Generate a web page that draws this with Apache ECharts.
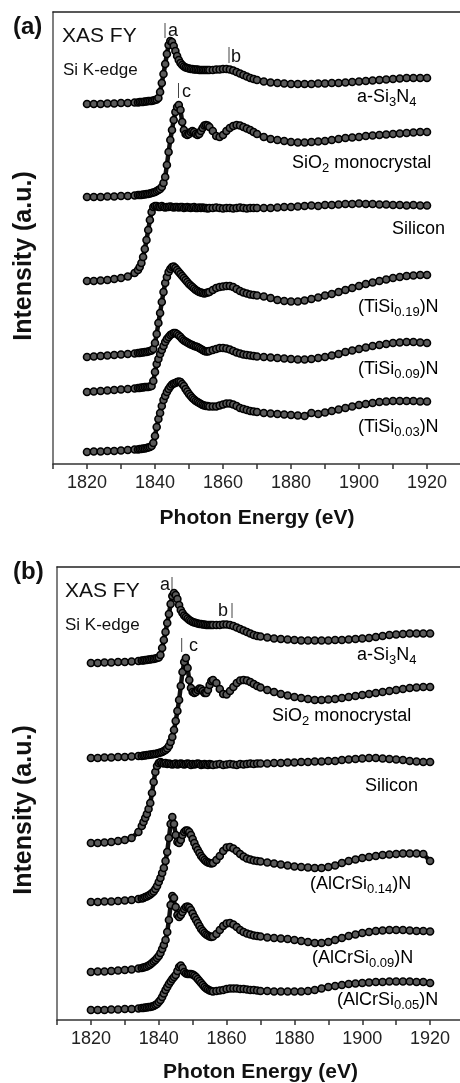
<!DOCTYPE html>
<html>
<head>
<meta charset="utf-8">
<script src="https://cdn.jsdelivr.net/npm/echarts@6/dist/echarts.min.js"></script>
<style>
	html,body{margin:0;padding:0;background:#fff;overflow:hidden;}
	#chart{width:460px;height:1083px;}
</style>
</head>
<body>
<div id="chart"></div>
<script>
// photon energy grid (eV), shared by both panels
const energy = [1820,1822,1824,1826,1828,1830,1832,1834,
	1835,1835.5,1836,1836.5,1837,1837.5,1838,1838.5,1839,1839.5,
	1840,1840.5,1841,1841.5,1842,1842.5,1843,1843.5,1844,1844.5,
	1845,1845.5,1846,1846.5,1847,1847.5,1848,1848.5,1849,1849.5,
	1850,1850.5,1851,1851.5,1852,1852.5,1853,1853.5,1854,1854.5,
	1855,1855.5,1856,
	1857,1858,1859,1860,1861,1862,1863,1864,1865,1866,1867,1868,1869,1870,
	1872,1874,1876,1878,1880,1882,1884,1886,1888,1890,1892,1894,1896,1898,
	1900,1902,1904,1906,1908,1910,1912,1914,1916,1918,1920];

// panel (a), offset intensities (a.u.)
const aSi3N4A = [360,360,360,360.5,360.5,361,361,361.5,
	361.5,362,362,362,362.5,362.5,363,363,363,363.5,
	364,364.5,366,372,381,390,400,410,419,423,
	422,418,413,408,404,401,399,397.5,396.5,396,
	395.5,395,395,394.5,394.5,394.5,394,394,394,394,
	394,394,394,
	394,394.5,394.5,395,395,394.5,393.5,392,390.5,389,387.5,386,385,384,
	382.5,381.5,381,380.5,380,380,380,380,380.5,380.5,381,381,381.5,382,
	382.5,383,383.5,384,384.5,385,385.5,386,386,386,386];
const sio2A = [267,267,267,267.5,267.5,268,268,268.5,
	269,269,269,269.5,269.5,270,270,270.5,271,271.5,
	272,273,274,275,277,281,287,299,312,324,
	334,344,352,357,359,354,342,334,330,329,
	330,332,333,332,330,329,330,333,336,338.5,
	339,338.5,337,
	333,328,327,329,333,336,338,339,338.5,337,335.5,334,332,330,
	327,325,324,323,322,321.5,321.5,322,322.5,323,324,325,326,326.5,
	327,328,328.5,329,329.5,330,330.5,331,331.5,332,332];
const siliconA = [183,183,183.5,184,185,186,187.5,191,
	194,197,201,207,215,224,234,244,252,257,
	258,258,257,257,258,257,256.5,257,257,257.5,
	257,256.5,257,257,256.5,257,257,256,256.5,257,
	256.5,256,256.5,257,256,256,256.5,256,256.5,256,
	256,255.5,256,
	256,256.5,256,255.5,256,256,255.5,256,256.5,256,255.5,256,256,256,
	256,256,256.5,257,257,257.5,258,258.5,258,259,259,259.5,260,260,
	260.5,260,260,259.5,259.5,259,259,258.5,259,258.5,258.5];
const tiSi19 = [107,107.5,108,108.5,109,109.5,110,110.5,
	111,111,111.5,111.5,112,112,112.5,113,113.5,115,
	121,130,141,151,162,172,181,187,192,195,
	197,197.5,196,194,192,190,188,186,184,182,
	180,178.5,177,175.5,174,173,172,171.5,171,170.5,
	171,171.5,172,
	174,176,177,177.5,178,178,177,175,173,171.5,170.5,169.5,169,168.5,
	167.5,166,164,163,162.5,162.5,163.5,165,166.5,168.5,170,172,174,176,
	178,180,181.5,183,184.5,186,187,188,188.5,189,189];
const tiSi09 = [72,72.5,73,73.5,74,74.5,75,75.5,
	76,76,76.5,76.5,77,77,77,77.5,78,83,
	92,100,105,110,114,118,122,125,127,129,
	130,131,131,130,128.5,127,125,123.5,122.5,121.5,
	120.5,119.5,119,118,117.5,117,116,115,114,113,
	112.5,112.5,113,
	114,115,116,116,115.5,114.5,113,111.5,110.5,109.5,109,108.5,108,107.5,
	107,106.5,106,105.5,105,104.5,104.5,105,106,107,108.5,110,112,113.5,
	115,116.5,118,119,120,121,121.5,122,122,121.5,121];
const tiSi03 = [12,12.5,12.5,13,13,13.5,14,14.5,
	14.5,15,15,15.5,15.5,16,16.5,17,18,21,
	28,37,45,51,58,64,68,72,75,77.5,
	79.5,80.5,81,82,82.5,82,80,78,75,72.5,
	70,68,66,64.5,63,62,61,60,59,58.5,
	58,58,57.5,
	57.5,57.5,58.5,59.5,60.5,60.5,59.5,58,56,55,54,53,52.5,52,
	51,50.5,50,49.5,49,48.5,48,51,50,51.5,53,54.5,56,57.5,
	59,60,61,62,62.5,63,63,63,63,62.5,62.5];

// panel (b), offset intensities (a.u.)
const aSi3N4B = [357,357,357.5,357.5,358,358,358.5,359,
	359.5,359.5,360,360,360.5,360.5,361,361,361.5,362,
	362.5,365,372,380,388,397,406,416,424,427,
	425,421,415,410,407,404.5,403,401.5,400,399,
	398,397.5,397,396.5,396,396,395.5,395.5,395,395,
	395,395,395,
	395,395,395.5,395.5,395,394,392.5,391,389.5,388,386.5,385,384,383.5,
	382.5,381.5,381,380.5,380,379.5,379.5,379.5,379.5,379.5,380,380,380.5,381,
	381.5,382,383,384,385,385.5,386,386.5,386.5,386.5,386.5];
const sio2B = [262,262,262.5,262.5,263,263,263.5,264,
	264,264.5,264.5,265,265,265.5,265.5,266,266,266.5,
	267,267.5,268,269,270,271.5,274,278,283,290,
	299,309,320,334,348,358,362,352,340,332,
	328,327,328,330,331.5,331,329,327,327,330,
	335,339,340,
	337,331,326,325.5,329,333,337,339.5,340,339.5,338,336,334,332.5,
	330,328,326,324.5,323,322,321,320,320,320.5,321,322,323,324,
	325,326,327,328,329,330,331,332,332.5,333,333];
const siliconB = [177,177,177.5,178,179,180,182,188,
	194,198,202,206,211,217,227,238,248,254,
	257,258,257,256.5,257,256,256.5,256,255.5,256,
	256.5,255.5,256,256.5,256,255.5,256,256.5,256,255,
	256,255.5,256,256.5,256,255,255.5,256,255.5,255,
	256,255.5,255,
	255.5,256,255,255.5,256,255.5,255,256,255.5,256,256.5,256,256.5,256.5,
	256.5,257,257,257.5,257.5,258,258,258.5,258.5,259,259,260,260.5,261,
	261.5,262,262,261.5,261,260.5,260,259,258.5,258,258];
const alCrSi14 = [118,118,118.5,118.5,119,119.5,120,121,
	121.5,122,123,123.5,124.5,125.5,127,128.5,131,134,
	138,142,147,152,159,168,182,196,203,196,
	185,178,177,180,185,188,189.5,189.5,188,185,
	181,177,173,170,167,164,162,160,158.5,157.5,
	157,156.5,157,
	160,164,169,172.5,173,171.5,169,166,163.5,161.5,160.5,159.5,159,158.5,
	157.5,156.5,155.5,154.5,153.5,153,152.5,152,152,153,154.5,157,159,160.5,
	162,163,164,165,165.5,166,166.5,166.5,166.5,166,159];
const alCrSi09 = [48,48.5,48.5,49,49.5,50,50.5,51.5,
	52,52.5,53,53.5,54.5,55.5,57,58.5,60,62,
	64,67,71,75,80,88,100,115,124,122,
	113,105,103,105,108,111,113,113.5,112.5,110,
	106.5,103,100,97,94,91,89,87,85.5,84.5,
	83.5,83,83.5,
	86,90,94,96.5,97,95.5,93,90,88,86.5,85.5,84.5,84,83.5,
	82.5,82,81.5,81,80,79,78,77,77,78,80,82,84,85.5,
	87,88,89,89.5,90,90,90,89.5,89,89,88.5];
const alCrSi05 = [10,10,10,10.5,10.5,11,11,11.5,
	12,12,12.5,12.5,13,13,13.5,14,15,16,
	18,20,23,26.5,30,33,36,38.5,41,43,
	45,49,53,54.5,52,48,46.5,46,46,46,
	45.5,44.5,43,41,39,37,35,33,31.5,30.5,
	29.5,29,28.5,
	29,29.5,30,31,31.5,31.5,31.5,31,31,30.5,30,30,29.5,29,
	29,28.5,28.5,28.5,28.5,28.5,29,30,31.5,33,34,35,36,36.5,
	37,37.5,38,38,38.5,38.5,38.5,38.5,38,38,37];

const xTicks = {min:1810, max:1930, interval:10};

const FONT = '"Liberation Sans", Arial, Helvetica, sans-serif';

function spectrum(name, values, idx){
	return {
		name: name,
		type: 'line',
		xAxisIndex: idx * 2,
		yAxisIndex: idx,
		data: energy.map((e,i)=>[e, values[i]]),
		symbol: 'circle',
		symbolSize: 7,
		showAllSymbol: true,
		lineStyle: {color:'#111', width:4.5},
		itemStyle: {color:'#5a5a5a', borderColor:'#000', borderWidth:1.6},
		silent: true
	};
}

function xAxisDef(idx, gap){
	return {
		type: 'value',
		gridIndex: idx,
		position: 'bottom',
		min: xTicks.min, max: xTicks.max, interval: xTicks.interval,
		name: 'Photon Energy (eV)',
		nameLocation: 'middle',
		nameGap: gap,
		nameTextStyle: {fontFamily: FONT, fontWeight: 'bold', fontSize: 21, color: '#111', verticalAlign: 'middle'},
		axisLine: {show: true, onZero: false, lineStyle: {color: '#333', width: 1.5}},
		axisTick: {show: true, inside: false, length: 5, lineStyle: {color: '#333', width: 1.5}},
		axisLabel: {
			margin: 10, fontFamily: FONT, fontSize: 18, color: '#222',
			formatter: v => (v % 20 === 0 ? String(v) : '')
		},
		splitLine: {show: false}
	};
}

// plain frame line along the top of each panel
function xTopDef(idx){
	return {
		type: 'value',
		gridIndex: idx,
		position: 'top',
		min: xTicks.min, max: xTicks.max,
		axisLine: {show: true, onZero: false, lineStyle: {color: '#222', width: 1.5}},
		axisTick: {show: false},
		axisLabel: {show: false},
		splitLine: {show: false}
	};
}

function yAxisDef(idx, max){
	return {
		type: 'value',
		gridIndex: idx,
		min: 0, max: max,
		axisLine: {show: true, onZero: false, lineStyle: {color: '#555', width: 1.5}},
		axisTick: {show: false},
		axisLabel: {show: false},
		splitLine: {show: false}
	};
}

const rich = {
	m: {fontFamily: FONT, fontSize: 18, lineHeight: 18, verticalAlign: 'top', color: '#111'},
	s: {fontFamily: FONT, fontSize: 13, lineHeight: 14, padding: [10,0,0,0], color: '#111'}
};

// parts: [text, isSubscript]
function curveLabel(x, yc, parts){
	return {
		type: 'text', x: x, y: yc - 9, silent: true,
		style: {
			text: parts.map(p => '{' + (p[1] ? 's' : 'm') + '|' + p[0] + '}').join(''),
			rich: rich, align: 'left', verticalAlign: 'top'
		}
	};
}

function plainText(x, yc, text, size, weight){
	return {
		type: 'text', x: x, y: yc, silent: true,
		style: {text: text, font: (weight || 'normal') + ' ' + size + 'px ' + FONT, fill: '#111', align: 'left', verticalAlign: 'middle'}
	};
}

function tickMark(x, y1, y2){
	return {type: 'line', silent: true, shape: {x1: x, y1: y1, x2: x, y2: y2}, style: {stroke: '#444', lineWidth: 1}};
}

function yTitle(yc){
	return {
		type: 'text', x: 24, y: yc, rotation: Math.PI / 2, silent: true,
		style: {text: 'Intensity (a.u.)', font: 'bold 25px ' + FONT, fill: '#111', align: 'center', verticalAlign: 'middle'}
	};
}

const graphics = [
	// panel (a)
	plainText(13, 27, '(a)', 24, 'bold'),
	plainText(62, 36, 'XAS FY', 21),
	plainText(63, 70.5, 'Si K-edge', 17),
	tickMark(165, 23, 38), plainText(168, 31, 'a', 18),
	tickMark(229, 47, 63), plainText(231, 57, 'b', 18),
	tickMark(178.5, 83, 98), plainText(182, 92, 'c', 18),
	curveLabel(357, 97, [['a-Si',0],['3',1],['N',0],['4',1]]),
	curveLabel(292, 163, [['SiO',0],['2',1],[' monocrystal',0]]),
	curveLabel(392, 229.5, [['Silicon',0]]),
	curveLabel(358, 307, [['(TiSi',0],['0.19',1],[')N',0]]),
	curveLabel(358, 369.5, [['(TiSi',0],['0.09',1],[')N',0]]),
	curveLabel(358, 427.5, [['(TiSi',0],['0.03',1],[')N',0]]),
	yTitle(256),
	// panel (b)
	plainText(13, 572, '(b)', 24, 'bold'),
	plainText(65, 591.5, 'XAS FY', 21),
	plainText(65, 625, 'Si K-edge', 17),
	plainText(160, 585, 'a', 18), tickMark(172, 577, 593),
	plainText(218, 611, 'b', 18), tickMark(232, 603, 618),
	tickMark(181.7, 638, 652), plainText(189, 646, 'c', 18),
	curveLabel(357, 655, [['a-Si',0],['3',1],['N',0],['4',1]]),
	curveLabel(272, 716, [['SiO',0],['2',1],[' monocrystal',0]]),
	curveLabel(365, 786.5, [['Silicon',0]]),
	curveLabel(310, 884.5, [['(AlCrSi',0],['0.14',1],[')N',0]]),
	curveLabel(312, 958, [['(AlCrSi',0],['0.09',1],[')N',0]]),
	curveLabel(337, 1000, [['(AlCrSi',0],['0.05',1],[')N',0]]),
	yTitle(810)
];

const chart = echarts.init(document.getElementById('chart'), null, {renderer: 'canvas'});
chart.setOption({
	animation: false,
	backgroundColor: '#fff',
	grid: [
		{left: 53, top: 12, width: 408, height: 452, containLabel: false, outerBoundsMode: 'none', show: false},
		{left: 57, top: 567, width: 407, height: 453, containLabel: false, outerBoundsMode: 'none', show: false}
	],
	xAxis: [xAxisDef(0, 54), xTopDef(0), xAxisDef(1, 52), xTopDef(1)],
	yAxis: [yAxisDef(0, 452), yAxisDef(1, 453)],
	series: [
		spectrum('a-Si3N4', aSi3N4A, 0),
		spectrum('SiO2 monocrystal', sio2A, 0),
		spectrum('Silicon', siliconA, 0),
		spectrum('(TiSi0.19)N', tiSi19, 0),
		spectrum('(TiSi0.09)N', tiSi09, 0),
		spectrum('(TiSi0.03)N', tiSi03, 0),
		spectrum('a-Si3N4', aSi3N4B, 1),
		spectrum('SiO2 monocrystal', sio2B, 1),
		spectrum('Silicon', siliconB, 1),
		spectrum('(AlCrSi0.14)N', alCrSi14, 1),
		spectrum('(AlCrSi0.09)N', alCrSi09, 1),
		spectrum('(AlCrSi0.05)N', alCrSi05, 1)
	],
	graphic: graphics
});
</script>
</body>
</html>
